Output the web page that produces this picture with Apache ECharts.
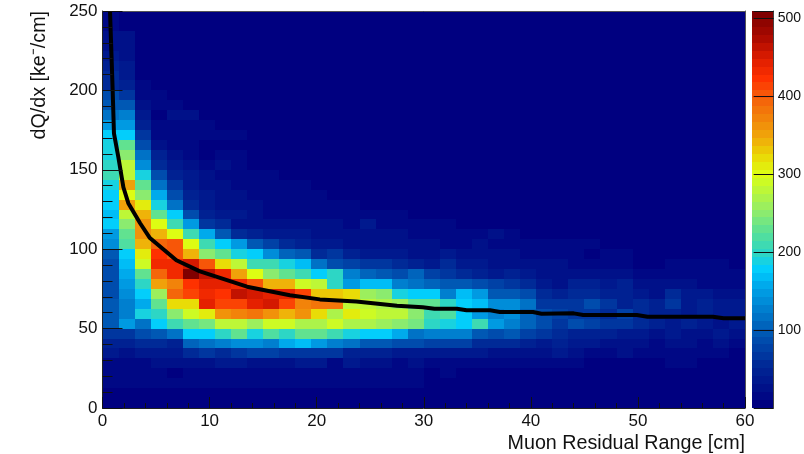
<!DOCTYPE html>
<html><head><meta charset="utf-8">
<script src="https://cdn.jsdelivr.net/npm/echarts@6/dist/echarts.min.js"></script>
<style>html,body{margin:0;padding:0;background:#fff}#c{width:804px;height:454px}</style>
</head><body><div id="c"></div>
<script>
const xBinWidth = 1.5, yBinWidth = 6.25;
const xMax = 60, yMax = 250, zMax = 509;
const colorTicks = [100, 200, 300, 400, 500];
// Histogram rows, bottom to top; each row has 40 bins along x.
const row00 = [8,8,8,8,8,8,8,8,8,8,8,8,8,8,8,8,8,8,8,8,8,8,8,8,8,8,8,8,8,8,8,8,8,8,8,8,8,8,8,8];
const row01 = [8,8,8,8,8,8,8,8,8,8,8,8,8,8,8,8,8,8,8,8,8,8,8,8,8,8,8,8,8,8,8,8,8,8,8,8,8,8,8,8];
const row02 = [12,12,12,12,12,12,12,12,12,12,12,12,12,12,12,12,12,12,12,12,10,10,10,10,10,10,10,10,10,10,10,10,10,10,10,10,10,10,10,10];
const row03 = [15,15,15,15,10,15,15,15,15,15,15,15,15,15,15,15,15,15,12,15,10,12,10,10,10,10,10,10,10,10,10,10,10,10,10,10,10,10,10,10];
const row04 = [15,15,15,25,25,25,25,35,35,30,25,25,35,35,20,35,30,25,15,25,15,15,15,15,12,12,12,12,12,12,10,10,10,10,10,15,12,10,10,10];
const row05 = [35,30,35,40,40,60,65,60,65,80,80,70,65,70,65,45,50,50,40,40,40,35,35,35,30,30,30,25,35,25,15,20,25,15,15,15,20,12,15,10];
const row06 = [45,50,55,55,50,110,120,130,140,140,130,155,165,150,125,120,100,100,90,90,75,75,75,60,60,55,45,40,45,40,35,25,30,30,20,25,30,20,30,15];
const row07 = [65,70,85,100,120,175,180,200,225,185,220,200,225,225,205,190,180,180,155,120,130,125,130,100,90,100,80,70,60,45,50,45,35,35,30,35,30,25,40,30];
const row08 = [100,150,115,180,205,225,235,285,285,255,295,295,265,270,295,270,265,255,245,235,200,190,175,205,150,125,110,85,70,85,80,65,70,55,50,40,45,35,30,35];
const row09 = [100,125,190,195,250,290,310,360,375,380,360,345,360,320,270,310,295,285,280,250,205,220,180,150,130,135,110,85,75,70,65,55,80,60,45,50,40,45,40,40];
const row10 = [95,130,160,225,325,325,440,415,415,440,450,410,375,380,380,280,275,265,255,225,225,200,180,165,140,135,120,65,70,70,90,65,50,60,50,65,40,45,40,35];
const row11 = [90,140,175,255,395,410,435,425,465,450,440,445,410,335,330,320,260,245,185,175,175,130,170,150,100,100,90,55,50,55,60,45,50,35,30,55,35,35,25,25];
const row12 = [85,150,195,350,375,420,445,440,430,400,345,340,290,275,195,150,165,170,130,120,110,95,95,90,80,70,60,40,30,50,45,35,50,25,25,30,30,20,20,20];
const row13 = [85,160,225,395,435,500,465,435,355,300,250,225,205,180,195,125,110,100,85,110,75,70,60,50,40,50,40,30,30,25,30,25,30,15,15,20,15,20,15,15];
const row14 = [90,165,290,430,430,450,400,325,285,205,205,190,170,120,90,80,70,70,60,50,40,55,35,35,30,30,25,25,25,20,20,15,20,10,10,12,15,15,15,10];
const row15 = [100,180,310,425,400,345,250,225,190,180,140,110,100,60,65,50,40,40,40,30,25,35,30,30,25,25,15,15,12,12,10,12,12,10,10,10,10,10,10,10];
const row16 = [140,215,345,395,400,300,205,180,145,100,80,60,50,40,35,30,25,30,30,25,25,20,15,30,15,15,15,15,12,12,12,10,10,10,10,10,10,10,10,10];
const row17 = [150,225,365,340,300,205,155,100,60,45,40,40,35,30,25,25,25,25,30,15,20,15,15,15,25,15,10,10,10,10,10,10,10,10,10,10,10,10,10,8];
const row18 = [175,250,365,300,205,150,70,60,30,30,30,30,25,30,25,20,35,15,15,15,15,15,10,10,10,10,10,10,10,8,8,8,8,8,8,8,8,8,8,8];
const row19 = [170,280,345,225,175,85,50,35,35,30,20,15,20,20,15,15,15,12,12,10,10,10,10,10,10,8,8,8,8,8,8,8,8,8,8,8,8,8,8,8];
const row20 = [175,350,310,190,120,60,40,30,25,25,20,15,15,15,12,12,10,10,10,10,10,8,8,8,8,8,8,8,8,8,8,8,8,8,8,8,8,8,8,8];
const row21 = [180,305,250,155,85,45,35,30,25,20,15,12,12,12,10,10,10,10,10,8,8,8,8,8,8,8,8,8,8,8,8,8,8,8,8,8,8,8,8,8];
const row22 = [190,350,225,120,70,35,30,25,15,20,12,12,12,10,10,10,8,8,8,8,8,8,8,8,8,8,8,8,8,8,8,8,8,8,8,8,8,8,8,8];
const row23 = [205,275,185,85,50,35,30,15,15,15,12,10,10,10,10,8,8,8,8,8,8,8,8,8,8,8,8,8,8,8,8,8,8,8,8,8,8,8,8,8];
const row24 = [200,275,140,55,35,25,15,25,20,10,10,10,10,8,8,8,8,8,8,8,8,8,8,8,8,8,6,6,6,6,6,6,6,6,6,6,6,6,6,6];
const row25 = [190,250,120,50,30,20,10,20,15,10,10,10,8,8,8,8,8,8,8,8,8,6,6,6,6,6,6,6,6,6,6,6,6,6,6,6,6,6,6,6];
const row26 = [185,225,90,30,15,15,10,10,10,10,8,8,8,8,8,8,8,8,8,8,6,6,6,6,6,6,6,6,6,6,6,6,6,6,6,6,6,6,6,6];
const row27 = [175,180,65,20,12,20,15,20,12,8,8,8,8,8,8,8,8,6,6,6,6,6,6,6,6,6,6,6,6,6,6,6,6,6,6,6,6,6,6,6];
const row28 = [150,150,50,15,15,15,20,10,10,8,8,8,8,8,6,6,6,6,6,6,6,6,6,6,6,6,6,6,6,6,6,6,6,6,6,6,6,6,6,6];
const row29 = [120,130,35,10,25,25,10,10,10,8,8,6,6,6,6,6,6,6,6,6,6,6,6,6,6,6,6,6,6,6,6,6,6,6,6,6,6,6,6,6];
const row30 = [100,95,25,12,12,10,10,8,8,8,6,6,6,6,6,6,6,6,6,6,6,6,6,6,6,6,6,6,6,6,6,6,6,6,6,6,6,6,6,6];
const row31 = [90,70,20,12,10,10,8,8,8,6,6,6,6,6,6,6,6,6,6,6,6,6,6,6,6,6,6,6,6,6,6,6,6,6,6,6,6,6,6,6];
const row32 = [60,45,20,10,8,8,8,8,6,6,6,6,6,6,6,6,6,6,6,6,6,6,6,6,6,6,6,6,6,6,6,6,6,6,6,6,6,6,6,6];
const row33 = [55,40,10,8,8,8,8,6,6,6,6,6,6,6,6,6,6,6,6,6,6,6,6,6,6,6,6,6,6,6,6,6,6,6,6,6,6,6,6,6];
const row34 = [45,40,10,8,8,8,6,6,6,6,6,6,6,6,6,6,6,6,6,6,6,6,6,6,6,6,6,6,6,6,6,6,6,6,6,6,6,6,6,6];
const row35 = [40,30,8,8,8,6,6,6,6,6,6,6,6,6,6,6,6,6,6,6,6,6,6,6,6,6,6,6,6,6,6,6,6,6,6,6,6,6,6,6];
const row36 = [30,30,8,8,6,6,6,6,6,6,6,6,6,6,6,6,6,6,6,6,6,6,6,6,6,6,6,6,6,6,6,6,6,6,6,6,6,6,6,6];
const row37 = [25,30,8,6,6,6,6,6,6,6,6,6,6,6,6,6,6,6,6,6,6,6,6,6,6,6,6,6,6,6,6,6,6,6,6,6,6,6,6,6];
const row38 = [15,10,6,6,6,6,6,6,6,6,6,6,6,6,6,6,6,6,6,6,6,6,6,6,6,6,6,6,6,6,6,6,6,6,6,6,6,6,6,6];
const row39 = [15,8,6,6,6,6,6,6,6,6,6,6,6,6,6,6,6,6,6,6,6,6,6,6,6,6,6,6,6,6,6,6,6,6,6,6,6,6,6,6];
const rows = [row00,row01,row02,row03,row04,row05,row06,row07,row08,row09,row10,row11,row12,row13,row14,row15,row16,row17,row18,row19,row20,row21,row22,row23,row24,row25,row26,row27,row28,row29,row30,row31,row32,row33,row34,row35,row36,row37,row38,row39];
// Mean curve
const curveX = [0.7,0.95,1.07,1.48,1.95,2.41,3.2,3.5,4.43,6.9,9.1,13.5,17.5,20.3,23.7,27.5,29.9,31,33.1,34,36.2,37.1,40.2,41,44,44.9,49.9,50.9,57,58,60];
const curveY = [250,200,173,158,139,129,120,116.5,107,93,86,76.4,71,68.4,67,64.4,63.4,62.5,62.5,61.5,61.5,60.5,60.5,59.4,59.6,58.6,58.6,57.5,57.5,56.5,56.5];
const stopV = [0,50,100,150,175,200,225,250,300,325,350,400,425,450,480,509];
const stopC = [[0,0,128],[0,40,150],[0,95,185],[0,160,230],[0,205,255],[50,215,190],[90,225,150],[140,235,110],[220,255,20],[235,215,5],[240,165,10],[245,95,10],[255,50,0],[225,30,0],[170,10,0],[128,0,0]];
function colorOf(v){
  const n = 50;
  const q = Math.min(n-1, Math.floor(v/zMax*n)); const vq = q*zMax/(n-1);
  let i = 0; while(i < stopV.length-2 && vq > stopV[i+1]) i++;
  const t = (vq-stopV[i])/(stopV[i+1]-stopV[i]);
  const c = stopC[i].map((a,k)=>Math.round(a+(stopC[i+1][k]-a)*t));
  return 'rgb('+c.join(',')+')';
}
const cells = [];
rows.forEach((r,j)=>r.forEach((v,i)=>cells.push([i*xBinWidth,j*yBinWidth,(i+1)*xBinWidth,(j+1)*yBinWidth,v])));
const bars = [];
for(let k=0;k<50;k++){bars.push([0,k*zMax/50,1,(k+1)*zMax/50,(k+0.5)*zMax/50]);}
function rectItem(params,api){
  const a = api.coord([api.value(0),api.value(1)]), b = api.coord([api.value(2),api.value(3)]);
  const col = colorOf(api.value(4));
  return {type:'rect',shape:{x:Math.round(a[0]),y:Math.round(b[1]),width:Math.round(b[0])-Math.round(a[0]),height:Math.round(a[1])-Math.round(b[1])},
    style:{fill:col,stroke:null}};
}
const font = '"Liberation Sans"';
const chart = echarts.init(document.getElementById('c'),null,{renderer:'canvas'});
chart.setOption({
  animation:false, backgroundColor:'#fff',
  grid:[{left:102.5,top:11,width:642.5,height:397,show:true,backgroundColor:'#000080',borderWidth:0},{left:752,top:11,width:24,height:397}],
  xAxis:[
    {gridIndex:0,type:'value',min:0,max:xMax,interval:10,z:5,name:'Muon Residual Range [cm]',nameLocation:'end',
     nameGap:0,nameTextStyle:{fontFamily:font,fontSize:19.7,color:'#111',align:'right',verticalAlign:'top',padding:[26,0,0,0]},
     axisLine:{onZero:false,lineStyle:{color:'#222',width:1}},axisTick:{inside:true,length:11,lineStyle:{color:'#111'}},
     minorTick:{show:true,splitNumber:5,length:5,lineStyle:{color:'#111'}},splitLine:{show:false},
     axisLabel:{fontFamily:font,fontSize:17,color:'#111',margin:5,hideOverlap:false,showMinLabel:true,showMaxLabel:true}},
    {gridIndex:0,type:'value',position:'top',min:0,max:xMax,z:5,axisLine:{show:true,onZero:false,lineStyle:{color:'#555'}},axisTick:{show:false},axisLabel:{show:false},splitLine:{show:false}},
    {gridIndex:1,type:'value',min:0,max:1,show:false}
  ],
  yAxis:[
    {gridIndex:0,type:'value',min:0,max:yMax,interval:50,z:5,name:'dQ/dx [ke⁻/cm]',nameLocation:'end',nameRotate:90,
     nameGap:0,nameTextStyle:{fontFamily:font,fontSize:19.7,color:'#111',align:'right',verticalAlign:'bottom',padding:[0,0,53,0]},
     axisLine:{onZero:false,lineStyle:{color:'#222',width:1}},axisTick:{inside:true,length:20,lineStyle:{color:'#111'}},
     minorTick:{show:true,splitNumber:5,length:10,lineStyle:{color:'#111'}},splitLine:{show:false},
     axisLabel:{fontFamily:font,fontSize:17,color:'#111',margin:5,showMinLabel:true,showMaxLabel:true}},
    {gridIndex:0,type:'value',position:'right',min:0,max:yMax,z:5,axisLine:{show:true,onZero:false,lineStyle:{color:'#555'}},axisTick:{show:false},axisLabel:{show:false},splitLine:{show:false}},
    {gridIndex:1,type:'value',position:'right',min:0,max:zMax,z:5,interval:100,
     axisLine:{show:true,onZero:false,lineStyle:{color:'#444'}},axisTick:{inside:true,length:20,lineStyle:{color:'#111'}},splitLine:{show:false},
     axisLabel:{fontFamily:font,fontSize:14,color:'#111',margin:4,formatter:v=>colorTicks.includes(v)?String(v):''}}
  ],
  series:[
    {type:'custom',xAxisIndex:0,yAxisIndex:0,coordinateSystem:'cartesian2d',renderItem:rectItem,data:cells,z:1,silent:true,clip:true},
    {type:'line',xAxisIndex:0,yAxisIndex:0,data:curveX.map((x,i)=>[x,curveY[i]]),showSymbol:false,smooth:false,z:3,lineStyle:{color:'#000',width:4,join:'round'},silent:true},
    {type:'custom',xAxisIndex:2,yAxisIndex:2,coordinateSystem:'cartesian2d',renderItem:rectItem,data:bars,z:1,silent:true}
  ]
});
</script></body></html>
